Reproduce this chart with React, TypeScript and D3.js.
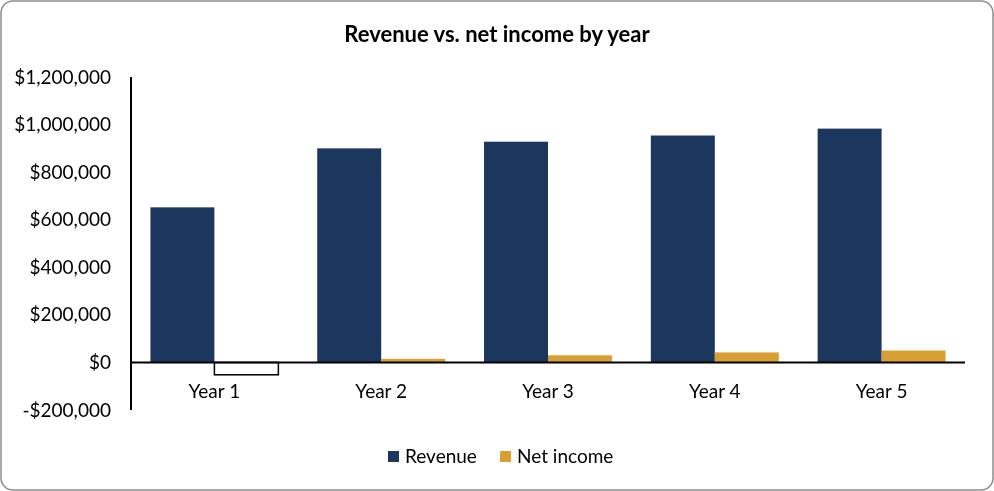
import React, { useEffect, useRef } from "react";
import * as d3 from "d3";

const categories = ["Year 1", "Year 2", "Year 3", "Year 4", "Year 5"];
const revenue = [652000, 900000, 928000, 954000, 983000];
const netIncome = [-52000, 15000, 30000, 42000, 50000];
const yTicks = [-200000, 0, 200000, 400000, 600000, 800000, 1000000, 1200000];
const seriesNames = ["Revenue", "Net income"];
const seriesColors = ["#1C375E", "#D89F32"];
const title = "Revenue vs. net income by year";

const W = 994;
const H = 491;
const FONT = "Lato, Carlito, Calibri, sans-serif";

export default function App() {
  const ref = useRef<SVGSVGElement | null>(null);

  useEffect(() => {
    const svg = d3.select(ref.current);
    svg.selectAll("*").remove();

    svg
      .append("rect")
      .attr("x", 1)
      .attr("y", 1)
      .attr("width", W - 2)
      .attr("height", H - 2)
      .attr("rx", 12)
      .attr("fill", "#fff")
      .attr("stroke", "#8C8C8C")
      .attr("stroke-width", 1.5);

    svg
      .append("text")
      .attr("x", 497)
      .attr("y", 42)
      .attr("text-anchor", "middle")
      .attr("font-family", FONT)
      .attr("font-weight", "bold")
      .attr("font-size", 22)
      .attr("fill", "#000")
      .text(title);

    const left = 131;
    const right = 965;
    const y = d3.scaleLinear().domain([-200000, 1200000]).range([410, 77]);
    const x0 = d3
      .scaleBand<string>()
      .domain(categories)
      .range([left, right])
      .paddingInner(0.233)
      .paddingOuter(0.1165);
    const x1 = d3
      .scaleBand<string>()
      .domain(seriesNames)
      .range([0, x0.bandwidth()]);

    const data = categories.map((c, i) => ({ c, vals: [revenue[i], netIncome[i]] }));

    const g = svg.append("g");
    data.forEach((d) => {
      d.vals.forEach((v, si) => {
        const xx = (x0(d.c) as number) + (x1(seriesNames[si]) as number);
        const y0 = y(0);
        const yv = y(v);
        const neg = v < 0;
        g.append("rect")
          .attr("x", xx)
          .attr("y", Math.min(y0, yv))
          .attr("width", x1.bandwidth())
          .attr("height", Math.abs(yv - y0))
          .attr("fill", neg ? "#fff" : seriesColors[si])
          .attr("stroke", neg ? "#000" : "none")
          .attr("stroke-width", neg ? 1.5 : 0);
      });
    });

    svg
      .append("line")
      .attr("x1", left)
      .attr("x2", left)
      .attr("y1", y(1200000))
      .attr("y2", y(-200000))
      .attr("stroke", "#000")
      .attr("stroke-width", 2);

    svg
      .append("line")
      .attr("x1", left)
      .attr("x2", right)
      .attr("y1", y(0))
      .attr("y2", y(0))
      .attr("stroke", "#000")
      .attr("stroke-width", 2);

    const fmt = (v: number) => (v < 0 ? "-$" : "$") + d3.format(",")(Math.abs(v));
    svg
      .append("g")
      .selectAll("text")
      .data(yTicks)
      .join("text")
      .attr("x", 111)
      .attr("y", (d) => y(d) + 6.5)
      .attr("text-anchor", "end")
      .attr("font-family", FONT)
      .attr("font-size", 19)
      .attr("fill", "#000")
      .text((d) => fmt(d));

    svg
      .append("g")
      .selectAll("text")
      .data(categories)
      .join("text")
      .attr("x", (d) => (x0(d) as number) + x0.bandwidth() / 2)
      .attr("y", 397.5)
      .attr("text-anchor", "middle")
      .attr("font-family", FONT)
      .attr("font-size", 19)
      .attr("fill", "#000")
      .text((d) => d);

    const legendX = [388, 500];
    seriesNames.forEach((s, i) => {
      svg
        .append("rect")
        .attr("x", legendX[i])
        .attr("y", 451)
        .attr("width", 11)
        .attr("height", 11)
        .attr("fill", seriesColors[i]);
      svg
        .append("text")
        .attr("x", legendX[i] + 17)
        .attr("y", 462.5)
        .attr("font-family", FONT)
        .attr("font-size", 19)
        .attr("fill", "#000")
        .text(s);
    });
  }, []);

  return (
    <svg
      ref={ref}
      width={W}
      height={H}
      style={{ position: "fixed", left: 0, top: 0, display: "block" }}
    />
  );
}
